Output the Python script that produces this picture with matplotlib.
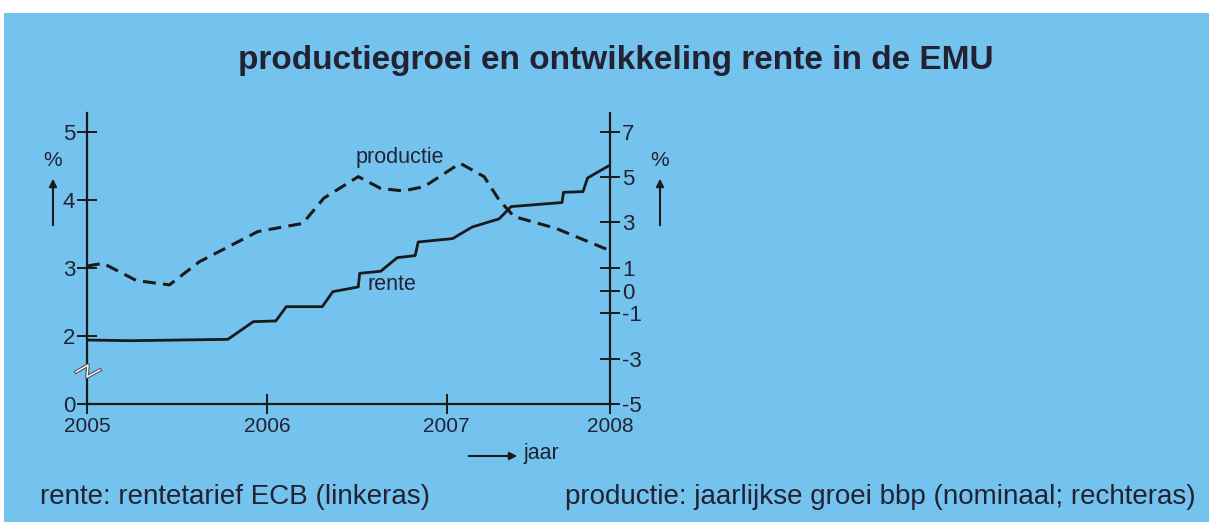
import matplotlib
matplotlib.use('Agg')
import matplotlib.pyplot as plt
from matplotlib.patches import Rectangle, FancyArrowPatch
from matplotlib.lines import Line2D

# ---- data (x = months since January 2005) ----
years = ['2005', '2006', '2007', '2008']
year_pos = [0, 12, 24, 34.9]

rente_x = [0, 2.9, 9.4, 11.1, 12.6, 13.3, 15.7, 16.4, 18.1, 18.2, 19.6, 20.7, 21.9,
           22.1, 24.4, 25.7, 27.5, 28.3, 31.7, 31.8, 33.1, 33.4, 34.9]
rente_y = [1.94, 1.93, 1.95, 2.21, 2.22, 2.43, 2.43, 2.65, 2.72, 2.92, 2.95, 3.15, 3.18,
           3.38, 3.43, 3.60, 3.72, 3.90, 3.96, 4.11, 4.12, 4.32, 4.51]

prod_x = [0, 1.07, 3.3, 5.5, 7.5, 11.4, 14.4, 15.8, 18.1, 19.6, 21.1, 22.5, 24.9,
          26.5, 27.5, 28.5, 31.3, 34.9]
prod_y = [1.08, 1.20, 0.44, 0.25, 1.27, 2.60, 2.96, 4.07, 5.02, 4.50, 4.39, 4.58, 5.61,
          5.02, 3.99, 3.26, 2.74, 1.76]

left_ticks = [1, 2, 3, 4, 5]
left_labels = ['0', '2', '3', '4', '5']
right_ticks = [7, 5, 3, 1, 0, -1, -3, -5]
right_labels = ['7', '5', '3', '1', '0', '-1', '-3', '-5']

# ---- styling ----
W, H = 1209, 524
BG = '#74c3ee'
INK = '#1a1a1a'
TXT = '#222233'
REG = ['Liberation Sans', 'DejaVu Sans']


def fx(px):
    return px / W


def fy(py):
    return 1 - py / H


fig = plt.figure(figsize=(W / 100, H / 100), dpi=100, facecolor='white')
fig.add_artist(Rectangle((fx(4), fy(522)), fx(1209) - fx(4), fy(13) - fy(522),
                         transform=fig.transFigure, facecolor=BG, edgecolor='none', zorder=0))

ax = fig.add_axes([fx(87), fy(404), fx(610) - fx(87), fy(113) - fy(404)])
ax.set_facecolor('none')
ax2 = ax.twinx()
ax2.set_facecolor('none')

ax.plot(rente_x, rente_y, color=INK, lw=2.0, solid_joinstyle='round')
ax2.plot(prod_x, prod_y, color=INK, lw=2.2, linestyle=(0, (4.2, 2.4)))

ax.set_xlim(0, 34.9)
ax.set_ylim(1, 5.275)
ax2.set_ylim(-5, 7.825)

ax.set_xticks(year_pos)
ax.set_xticklabels(years)
ax.set_yticks(left_ticks)
ax.set_yticklabels(left_labels)
ax2.set_yticks(right_ticks)
ax2.set_yticklabels(right_labels)

for a in (ax, ax2):
    a.spines['top'].set_visible(False)
    for s in a.spines.values():
        s.set_color(INK)
        s.set_linewidth(1.6)
ax2.spines['left'].set_visible(False)
ax2.spines['bottom'].set_visible(False)
ax.spines['right'].set_visible(False)

ax.tick_params(axis='y', direction='inout', length=15, width=1.4, color=INK,
               labelcolor=TXT, labelsize=16, pad=1)
ax.tick_params(axis='x', direction='inout', length=15, width=1.4, color=INK,
               labelcolor=TXT, labelsize=15, pad=2)
ax2.tick_params(axis='y', direction='inout', length=15, width=1.4, color=INK,
                labelcolor=TXT, labelsize=16, pad=1)
for lab in ax.get_xticklabels() + ax.get_yticklabels() + ax2.get_yticklabels():
    lab.set_family(REG)

# series labels
fig.text(fx(400), fy(158), 'productie', ha='center', va='center', fontsize=15.5,
         family=REG, color=TXT)
fig.text(fx(392), fy(284), 'rente', ha='center', va='center', fontsize=15.5,
         family=REG, color=TXT)

# % units with arrows
for xp in (53, 660):
    fig.text(fx(xp), fy(161), '%', ha='center', va='center', fontsize=15,
             family=REG, color=TXT)
    fig.add_artist(FancyArrowPatch((fx(xp), fy(228)), (fx(xp), fy(176)),
                                   transform=fig.transFigure, arrowstyle='-|>',
                                   mutation_scale=11, color=INK, lw=1.5))

# jaar arrow
fig.add_artist(FancyArrowPatch((fx(466), fy(456)), (fx(520), fy(456)),
                               transform=fig.transFigure, arrowstyle='-|>',
                               mutation_scale=11, color=INK, lw=1.5))
fig.text(fx(524), fy(454), 'jaar', ha='left', va='center', fontsize=15.5,
         family=REG, color=TXT)

# axis break symbol
bx = [76, 88, 87, 100]
by = [372, 365, 377, 370]
fig.add_artist(Line2D([fx(v) for v in bx], [fy(v) for v in by], transform=fig.transFigure,
                      color='#555555', lw=2.6))
fig.add_artist(Line2D([fx(v) for v in bx], [fy(v) for v in by], transform=fig.transFigure,
                      color='white', lw=1.0))

# title and footnotes
fig.text(fx(616), fy(60), 'productiegroei en ontwikkeling rente in de EMU', ha='center',
         va='center', fontsize=24, fontweight='bold', family=REG, color=TXT)
fig.text(fx(40), fy(497), 'rente: rentetarief ECB (linkeras)', ha='left', va='center',
         fontsize=20, family=REG, color=TXT)
fig.text(fx(1196), fy(497), 'productie: jaarlijkse groei bbp (nominaal; rechteras)',
         ha='right', va='center', fontsize=20, family=REG, color=TXT)

fig.savefig('out.png', dpi=100, facecolor='white')
